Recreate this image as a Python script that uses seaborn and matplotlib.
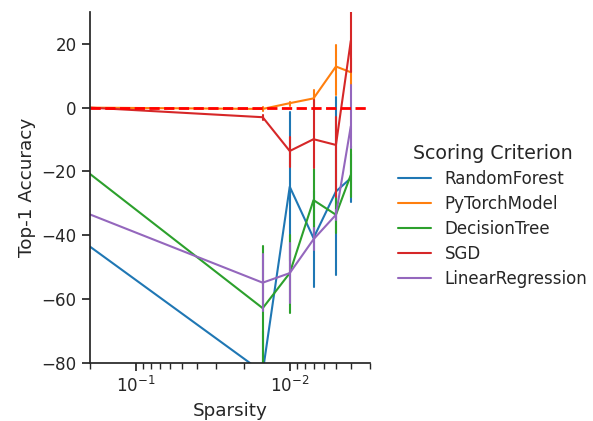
import numpy as np
import pandas as pd
import matplotlib
matplotlib.use("Agg")
import matplotlib.pyplot as plt
import seaborn as sns

# Sparsity levels (x axis, log scale, decreasing to the right)
sparsity = [0.2, 0.015, 0.01, 0.007, 0.005, 0.004]

models = ["RandomForest", "PyTorchModel", "DecisionTree", "SGD", "LinearRegression"]

# Mean Top-1 accuracy change per model and the interval bounds around it
rf_mean = [-43.6, -83.0, -24.8, -40.9, -26.3, -22.1]
rf_lo = [-43.6, -96.0, -48.0, -56.1, -52.4, -29.5]
rf_hi = [-43.6, -70.0, -1.3, -26.0, 3.4, -14.5]

pt_mean = [0.0, -0.4, 1.4, 2.9, 12.9, 11.1]
pt_lo = [0.0, -1.1, 0.5, 0.3, 4.0, 7.1]
pt_hi = [0.0, 0.3, 1.9, 5.5, 19.7, 15.5]

dt_mean = [-20.8, -62.9, -51.9, -29.0, -33.6, -21.1]
dt_lo = [-20.8, -82.5, -64.3, -39.4, -39.4, -27.9]
dt_hi = [-20.8, -43.3, -39.9, -19.2, -27.8, -12.0]

sgd_mean = [0.0, -3.0, -13.6, -9.9, -11.7, 21.0]
sgd_lo = [0.0, -3.9, -18.5, -19.0, -28.0, 11.1]
sgd_hi = [0.0, -2.3, -9.1, 2.4, -2.8, 31.5]

lr_mean = [-33.5, -54.9, -51.9, -41.3, -33.6, -5.8]
lr_lo = [-33.5, -63.9, -61.3, -44.6, -35.2, -12.7]
lr_hi = [-33.5, -45.9, -42.5, -37.8, -32.0, 7.1]

series = {
    "RandomForest": (rf_lo, rf_mean, rf_hi),
    "PyTorchModel": (pt_lo, pt_mean, pt_hi),
    "DecisionTree": (dt_lo, dt_mean, dt_hi),
    "SGD": (sgd_lo, sgd_mean, sgd_hi),
    "LinearRegression": (lr_lo, lr_mean, lr_hi),
}

# Long table: three rows (low, centre, high) per point, so the median gives
# the centre and the full percentile interval gives the bar
rows = []
for name in models:
    for triple in series[name]:
        for s, v in zip(sparsity, triple):
            rows.append({"Sparsity": s, "Top-1 Accuracy": v, "Scoring Criterion": name})
df = pd.DataFrame(rows)

sns.set_theme(context="notebook", style="ticks", font_scale=1.1)

fig = plt.figure(figsize=(5.93, 4.21), dpi=100)
ax = fig.add_axes([90 / 593, 1 - 362.7 / 421, 280 / 593, (362.7 - 12) / 421])

sns.lineplot(
    data=df, x="Sparsity", y="Top-1 Accuracy", hue="Scoring Criterion",
    hue_order=models, palette="tab10", estimator="median",
    errorbar=("pi", 100), err_style="bars", ax=ax,
)
ax.axhline(0, color="red", linestyle="--", linewidth=2)

ax.set_xscale("log")
ax.set_xlim(0.2, 0.003)
ax.set_ylim(-80, 30)
ax.set_yticks([-80, -60, -40, -20, 0, 20])
sns.despine(ax=ax)

handles, labels = ax.get_legend_handles_labels()
ax.legend_.remove()
fig.legend(handles, labels, title="Scoring Criterion", loc="center left",
           bbox_to_anchor=(383 / 593, 0.487), frameon=False,
           fontsize=12.0, title_fontsize=13.7, labelspacing=0.42,
           handlelength=2.0, handletextpad=0.8)

fig.savefig("out.png", dpi=100)
